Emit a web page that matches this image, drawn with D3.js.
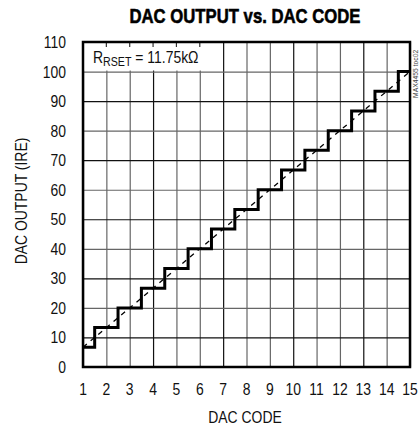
<!DOCTYPE html>
<html><head><meta charset="utf-8">
<script src="https://cdn.jsdelivr.net/npm/d3@7"></script>
<style>body{margin:0;background:#fff}svg{display:block}</style>
</head><body>
<svg id="c" width="419" height="430"></svg>
<script>
const codes = [1,2,3,4,5,6,7,8,9,10,11,12,13,14,15];
const outputIRE = [6.67,13.33,20,26.67,33.33,40,46.67,53.33,60,66.67,73.33,80,86.67,93.33,100];
const idealLine = [[1,6.67],[15,100]];
const yTicks = [0,10,20,30,40,50,60,70,80,90,100,110];
const xTicks = [1,2,3,4,5,6,7,8,9,10,11,12,13,14,15];

const svg = d3.select("#c");
const L=83, R=410, T=42, B=367;
const x = d3.scaleLinear().domain([1,15]).range([L,R]);
const y = d3.scaleLinear().domain([0,110]).range([B,T]);
const font = "'Liberation Sans',Arial,sans-serif";
const SX = 0.82;

// grid
const g = svg.append("g");
g.append("g").attr("transform",`translate(0,${B})`)
 .call(d3.axisBottom(x).tickValues(xTicks).tickSize(-(B-T)).tickFormat(""))
 .call(a=>a.select(".domain").remove())
 .call(a=>a.selectAll("line").attr("stroke",(d,i)=>i%3===0?"#111":"#666").attr("stroke-width",1.2));
g.append("g").attr("transform",`translate(${L},0)`)
 .call(d3.axisLeft(y).tickValues(yTicks).tickSize(-(R-L)).tickFormat(""))
 .call(a=>a.select(".domain").remove())
 .call(a=>a.selectAll("line").attr("stroke",(d,i)=>i%2===0?"#666":"#111").attr("stroke-width",1.2));

// white box behind annotation
svg.append("rect").attr("x",L).attr("y",T).attr("width",x(7)-L-1).attr("height",y(100)-T-1).attr("fill","#fff");
svg.append("g").selectAll("line").data([2,3,4,5,6]).join("line")
 .attr("x1",d=>x(d)).attr("x2",d=>x(d)).attr("y1",T).attr("y2",T+5).attr("stroke","#333").attr("stroke-width",1.2);

// ideal dashed line
svg.append("path").datum(idealLine)
 .attr("d",d3.line().x(d=>x(d[0])).y(d=>y(d[1])))
 .attr("fill","none").attr("stroke","#000").attr("stroke-width",1.3).attr("stroke-dasharray","5,5");

// staircase
const stepPts = [];
codes.forEach((c,i)=>{
  const x0 = Math.max(1,c-0.5), x1 = Math.min(15,c+0.5);
  stepPts.push([x0,outputIRE[i]]); stepPts.push([x1,outputIRE[i]]);
});
svg.append("path").datum(stepPts)
 .attr("d",d3.line().x(d=>x(d[0])).y(d=>y(d[1])))
 .attr("fill","none").attr("stroke","#000").attr("stroke-width",3).attr("stroke-linejoin","miter");

// frame
svg.append("rect").attr("x",L).attr("y",T).attr("width",R-L).attr("height",B-T)
 .attr("fill","none").attr("stroke","#000").attr("stroke-width",2.5);

function ntext(parent, tx, ty, rot, anchor, size, str){
  return parent.append("text")
   .attr("transform",`translate(${tx},${ty})${rot?` rotate(${rot})`:""} scale(${SX},1)`)
   .attr("text-anchor",anchor).attr("font-family",font).attr("font-size",size).attr("fill","#111").text(str);
}
// tick labels
const yl = svg.append("g");
yTicks.forEach(d=>ntext(yl,66,y(d)+6,0,"end",17,d));
const xl = svg.append("g");
xTicks.forEach(d=>ntext(xl,x(d),395,0,"middle",17,d));

// axis titles
ntext(svg,245,423,0,"middle",17,"DAC CODE");
ntext(svg,27,201,-90,"middle",17,"DAC OUTPUT (IRE)");

// title
svg.append("text").attr("x",245).attr("y",23).attr("text-anchor","middle")
 .attr("font-family",font).attr("font-weight","bold").attr("font-size",21)
 .attr("textLength",231).attr("lengthAdjust","spacingAndGlyphs").attr("fill","#000")
 .attr("stroke","#000").attr("stroke-width",0.6)
 .text("DAC OUTPUT vs. DAC CODE");

// annotation
const ann = ntext(svg,93,63,0,"start",17,"");
ann.append("tspan").text("R");
ann.append("tspan").attr("font-size",13).attr("dy",3).text("RSET");
ann.append("tspan").attr("dy",-3).text(" = 11.75kΩ");

// side code
svg.append("text").attr("transform","translate(418,98) rotate(-90) scale(0.85,1)").attr("text-anchor","start")
 .attr("font-family",font).attr("font-size",8).attr("fill","#444").text("MAX4455 toc02");
</script>
</body></html>
